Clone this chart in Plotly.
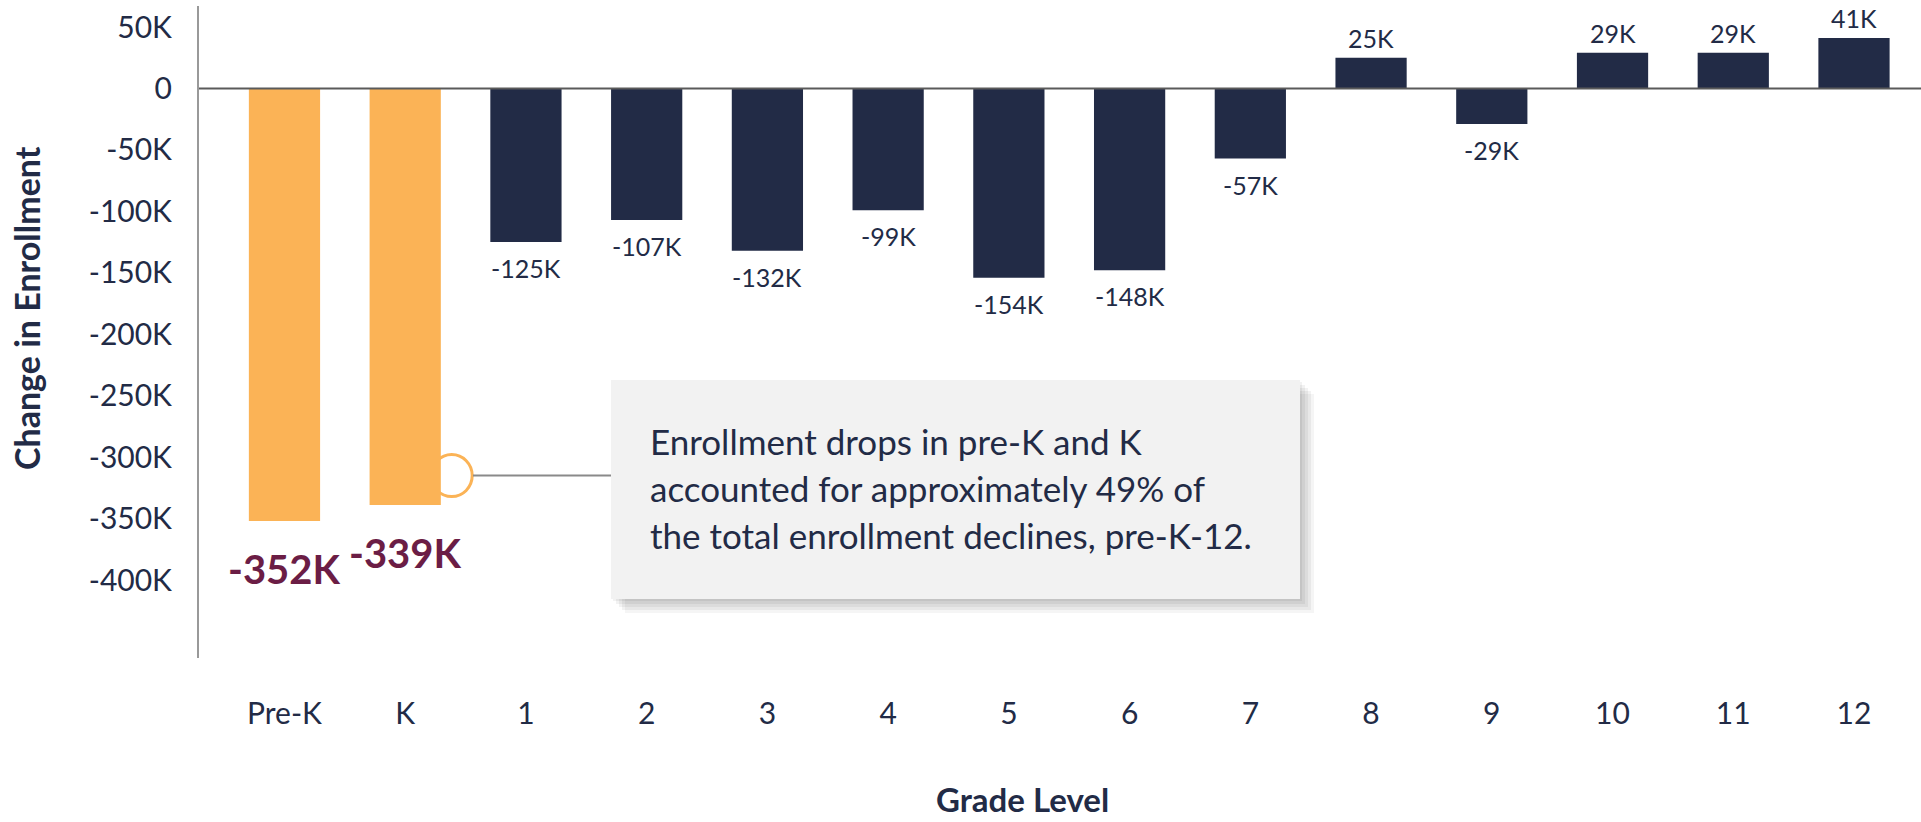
import plotly.graph_objects as go

# ---------------- data ----------------
grades = ["Pre-K", "K", "1", "2", "3", "4", "5", "6", "7", "8", "9", "10", "11", "12"]
change = [-352000, -339000, -125000, -107000, -132000, -99000, -154000,
          -148000, -57000, 25000, -29000, 29000, 29000, 41000]
highlighted = ["Pre-K", "K"]
y_tick_vals = [50000, 0, -50000, -100000, -150000, -200000, -250000,
               -300000, -350000, -400000]
y_tick_text = ["50K", "0", "-50K", "-100K", "-150K", "-200K", "-250K",
               "-300K", "-350K", "-400K"]
callout_value = -315000
callout_lines = ["Enrollment drops in pre-K and K",
                 "accounted for approximately 49% of",
                 "the total enrollment declines, pre-K-12."]

# ---------------- style ----------------
ORANGE = "#FBB356"
NAVY = "#222B46"
MAROON = "#6B1D45"
FONT = "Lato"

W, H = 1921, 822
L, R, T, B = 199, 1921, 6, 658
PW, PH = R - L, B - T


def px_x(p):
    return (p - L) / PW


def px_y(p):
    return (B - p) / PH


xs = list(range(len(grades)))
colors = [ORANGE if g in highlighted else NAVY for g in grades]

fig = go.Figure()
fig.add_trace(go.Bar(
    x=xs, y=change, marker=dict(color=colors, line=dict(width=0)),
    width=0.59, hoverinfo="skip", showlegend=False,
))

annotations = []
for x, g, v in zip(xs, grades, change):
    label = f"{v / 1000:.0f}K"
    if g in highlighted:
        annotations.append(dict(
            x=x, y=v, xref="x", yref="y", text=f"<b>{label}</b>",
            showarrow=False, yanchor="middle", yshift=-48,
            font=dict(family=FONT, size=40, color=MAROON)))
    else:
        annotations.append(dict(
            x=x, y=v, xref="x", yref="y", text=label, showarrow=False,
            yanchor="middle", yshift=(20 if v > 0 else -26),
            font=dict(family=FONT, size=25, color=NAVY)))

# axis titles
annotations.append(dict(
    x=px_x(26), y=px_y(308), xref="paper", yref="paper",
    text="<b>Change in Enrollment</b>", textangle=-90, showarrow=False,
    xanchor="center", yanchor="middle",
    font=dict(family=FONT, size=34, color=NAVY)))
annotations.append(dict(
    x=px_x(1022), y=px_y(799), xref="paper", yref="paper",
    text="<b>Grade Level</b>", showarrow=False,
    xanchor="center", yanchor="middle",
    font=dict(family=FONT, size=33, color=NAVY)))

# callout text lines
for i, line in enumerate(callout_lines):
    annotations.append(dict(
        x=px_x(648), y=px_y(441 + 47 * i), xref="paper", yref="paper",
        text=line, showarrow=False, xanchor="left", yanchor="middle",
        font=dict(family=FONT, size=35, color=NAVY)))

shapes = []
# zero line on top of bars
shapes.append(dict(type="line", xref="paper", yref="y", x0=0, x1=1, y0=0, y1=0,
                   line=dict(color="#5a5a5a", width=2), layer="above"))
# callout box shadow
bx0, bx1, by0, by1 = 611, 1300, 380, 599
for k, op in enumerate([0.05, 0.05, 0.05, 0.05, 0.04]):
    d = 2 + 3 * k
    shapes.append(dict(type="rect", xref="paper", yref="paper",
                       x0=px_x(bx0 + d), x1=px_x(bx1 + d),
                       y0=px_y(by1 + d), y1=px_y(by0 + d),
                       fillcolor="#000000", opacity=op, line=dict(width=0),
                       layer="above"))
shapes.append(dict(type="rect", xref="paper", yref="paper",
                   x0=px_x(bx0), x1=px_x(bx1), y0=px_y(by1), y1=px_y(by0),
                   fillcolor="#F2F2F2", line=dict(width=0), layer="above"))
# pointer circle and connector
shapes.append(dict(type="circle", xref="x", yref="y",
                   xsizemode="pixel", ysizemode="pixel",
                   xanchor=xs[1], yanchor=callout_value,
                   x0=26, x1=67, y0=-21, y1=21,
                   fillcolor="white", line=dict(color=ORANGE, width=3),
                   layer="below"))
shapes.append(dict(type="line", xref="paper", yref="y", ysizemode="pixel",
                   yanchor=callout_value, y0=0, y1=0,
                   x0=px_x(473), x1=px_x(bx0),
                   line=dict(color="#8a8a8a", width=2), layer="above"))

fig.update_layout(
    width=W, height=H,
    margin=dict(l=L, r=W - R, t=T, b=H - B, pad=0),
    paper_bgcolor="white", plot_bgcolor="white",
    font=dict(family=FONT, color=NAVY),
    bargap=0.41,
    annotations=annotations, shapes=shapes,
    xaxis=dict(
        range=[-0.708, 13.555], tickmode="array", tickvals=xs, ticktext=grades,
        showgrid=False, zeroline=False, showline=False, ticks="",
        ticklabelstandoff=35, tickfont=dict(family=FONT, size=30, color=NAVY),
        fixedrange=True,
    ),
    yaxis=dict(
        range=[-463400, 67100], tickmode="array", tickvals=y_tick_vals,
        ticktext=y_tick_text, showgrid=False, zeroline=False,
        showline=True, linecolor="#999999", linewidth=2, ticks="",
        ticklabelstandoff=19, tickfont=dict(family=FONT, size=30, color=NAVY),
        fixedrange=True,
    ),
)

fig.write_html("out.html", config={"displayModeBar": False},
               post_script="document.body.style.margin='0';")
